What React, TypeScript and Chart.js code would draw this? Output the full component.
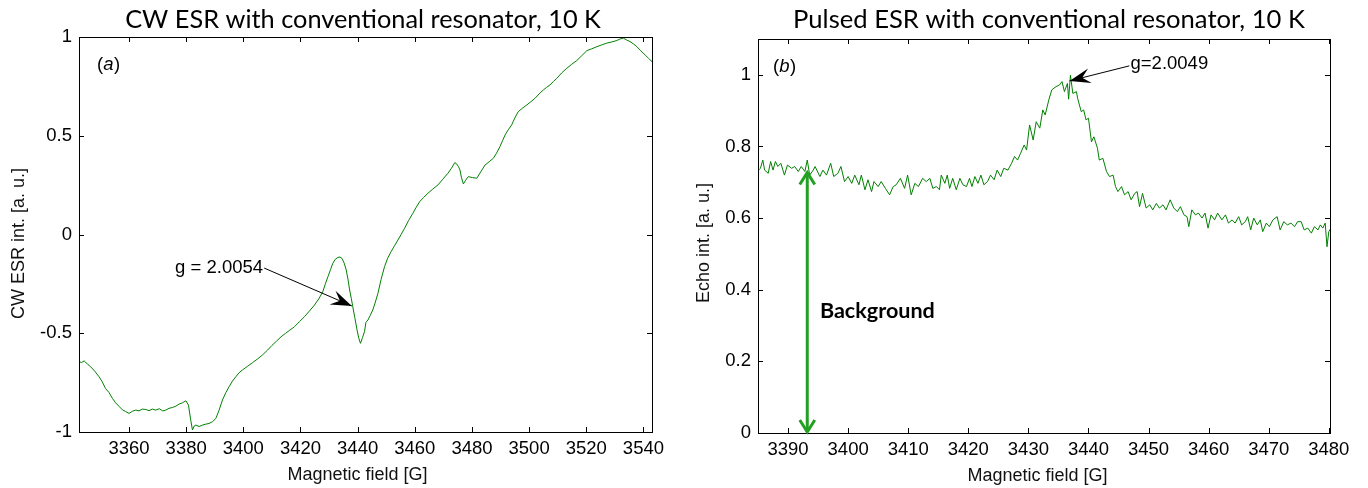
import React, { useEffect, useRef } from 'react';
import { Chart, registerables } from 'chart.js';

Chart.register(...registerables);

// ---------------- data ----------------
const cwField = [
  3342.5, 3343.4, 3344.3, 3345.4, 3346.6, 3348.0, 3349.5, 3350.6, 3351.8, 3353.0, 3354.2, 3355.3, 3356.5, 3357.7, 3358.8,
  3360.0, 3361.2, 3362.4, 3363.5, 3364.6, 3365.9, 3367.0, 3368.2, 3369.4, 3370.6, 3371.8, 3372.9, 3374.0, 3375.2, 3376.4,
  3377.5, 3378.7, 3379.9, 3380.8, 3381.6, 3382.2, 3382.8, 3383.4, 3384.5, 3385.7, 3386.9, 3388.0, 3389.2, 3390.4, 3391.5,
  3392.7, 3393.9, 3395.0, 3396.2, 3397.4, 3398.5, 3399.7, 3401.4, 3403.2, 3405.0, 3406.7, 3408.5, 3410.0, 3411.6, 3413.2,
  3414.8, 3416.3, 3417.9, 3419.6, 3421.4, 3423.1, 3424.9, 3426.4, 3427.8, 3428.7, 3429.6, 3430.5, 3431.3, 3432.2, 3433.1,
  3433.8, 3434.5, 3435.3, 3436.0, 3436.6, 3437.2, 3437.8, 3438.3, 3439.0, 3439.8, 3440.4, 3441.0, 3441.7, 3442.4, 3442.9,
  3443.6, 3444.4, 3445.3, 3446.2, 3447.1, 3448.2, 3449.4, 3450.5, 3451.7, 3452.9, 3454.1, 3455.2, 3456.4, 3457.8, 3459.3,
  3460.5, 3461.7, 3463.1, 3464.6, 3466.3, 3468.1, 3469.8, 3471.6, 3472.8, 3474.0, 3474.6, 3475.3, 3475.8, 3476.3, 3477.0,
  3477.8, 3478.7, 3480.2, 3481.7, 3483.1, 3484.6, 3486.0, 3487.5, 3488.6, 3489.8, 3490.7, 3491.6, 3492.7, 3493.9, 3495.0,
  3496.2, 3497.7, 3499.2, 3500.6, 3502.1, 3503.5, 3505.0, 3506.1, 3507.3, 3508.5, 3509.7, 3511.4, 3513.2, 3514.9, 3516.7,
  3518.4, 3520.2, 3521.9, 3523.7, 3525.4, 3527.2, 3528.9, 3530.7, 3531.8, 3533.0, 3534.1, 3535.3, 3536.5, 3537.7, 3539.1,
  3540.6, 3541.8, 3543.0,
];
const cwSignal = [
  -0.644, -0.648, -0.64, -0.655, -0.67, -0.692, -0.72, -0.745, -0.78, -0.8, -0.83, -0.852, -0.87, -0.888, -0.896,
  -0.906, -0.895, -0.889, -0.893, -0.884, -0.886, -0.892, -0.884, -0.889, -0.882, -0.893, -0.889, -0.88, -0.876, -0.869,
  -0.859, -0.852, -0.842, -0.864, -0.94, -0.99, -0.97, -0.965, -0.972, -0.965, -0.96, -0.957, -0.948, -0.931, -0.89,
  -0.838, -0.8, -0.771, -0.742, -0.72, -0.7, -0.686, -0.668, -0.649, -0.63, -0.61, -0.585, -0.562, -0.54, -0.518,
  -0.5, -0.484, -0.467, -0.442, -0.416, -0.388, -0.357, -0.326, -0.29, -0.25, -0.214, -0.178, -0.146, -0.125, -0.116,
  -0.114, -0.121, -0.145, -0.18, -0.225, -0.281, -0.325, -0.366, -0.42, -0.484, -0.525, -0.551, -0.522, -0.492, -0.445,
  -0.433, -0.41, -0.382, -0.342, -0.298, -0.228, -0.163, -0.12, -0.087, -0.057, -0.028, 0.0, 0.031, 0.07, 0.107,
  0.138, 0.166, 0.188, 0.209, 0.23, 0.251, 0.28, 0.31, 0.335, 0.364, 0.358, 0.343, 0.327, 0.29, 0.256,
  0.275, 0.293, 0.288, 0.285, 0.318, 0.352, 0.368, 0.386, 0.412, 0.445, 0.475, 0.504, 0.53, 0.555, 0.59,
  0.622, 0.64, 0.656, 0.672, 0.69, 0.712, 0.732, 0.745, 0.757, 0.775, 0.791, 0.818, 0.842, 0.862, 0.881,
  0.905, 0.931, 0.94, 0.951, 0.96, 0.969, 0.975, 0.982, 0.99, 0.994, 0.985, 0.977, 0.965, 0.951, 0.93,
  0.909, 0.892, 0.875,
];

const echoField = [
  3385.2, 3385.4, 3385.8, 3386.1, 3386.7, 3387.1, 3387.5, 3387.9, 3388.3, 3388.8, 3389.4, 3389.9, 3390.6, 3391.1, 3391.7,
  3392.2, 3392.8, 3393.2, 3393.6, 3394.2, 3394.5, 3395.3, 3395.8, 3396.4, 3397.1, 3397.6, 3398.3, 3398.8, 3399.4, 3400.0,
  3400.6, 3401.1, 3401.8, 3402.2, 3402.8, 3403.3, 3403.9, 3404.3, 3405.0, 3405.5, 3406.2, 3406.9, 3407.5, 3408.0, 3408.7,
  3409.4, 3409.9, 3410.5, 3411.1, 3411.7, 3412.4, 3413.0, 3413.6, 3414.1, 3414.7, 3415.2, 3415.5, 3416.1, 3416.5, 3416.9,
  3417.4, 3418.0, 3418.6, 3419.1, 3419.7, 3420.2, 3420.6, 3421.1, 3421.6, 3422.1, 3422.6, 3423.2, 3423.7, 3424.3, 3424.8,
  3425.4, 3425.9, 3426.6, 3427.2, 3427.7, 3428.2, 3428.7, 3429.3, 3429.7, 3430.2, 3430.8, 3431.3, 3431.9, 3432.4, 3432.8,
  3433.4, 3433.9, 3434.6, 3435.2, 3435.6, 3436.0, 3436.5, 3436.7, 3437.0, 3437.4, 3438.0, 3438.2, 3438.8, 3439.2, 3439.6,
  3440.0, 3440.5, 3440.9, 3441.5, 3441.8, 3442.4, 3443.0, 3443.5, 3444.1, 3444.5, 3444.9, 3445.5, 3446.0, 3446.6, 3447.1,
  3447.7, 3448.1, 3448.5, 3449.0, 3449.6, 3450.2, 3450.7, 3451.3, 3451.8, 3452.4, 3452.9, 3453.6, 3454.2, 3454.8, 3455.3,
  3455.9, 3456.4, 3456.7, 3457.2, 3457.8, 3458.3, 3458.9, 3459.4, 3459.9, 3460.4, 3461.0, 3461.5, 3462.2, 3462.8, 3463.3,
  3463.9, 3464.4, 3465.0, 3465.5, 3466.1, 3466.5, 3467.0, 3467.5, 3468.1, 3468.6, 3469.0, 3469.6, 3470.1, 3470.7, 3471.4,
  3471.9, 3472.5, 3473.1, 3473.7, 3474.3, 3474.8, 3475.4, 3475.9, 3476.5, 3477.1, 3477.6, 3478.2, 3478.6, 3479.0, 3479.4,
  3479.7, 3480.0, 3480.5,
];
const echoSignal = [
  0.735, 0.739, 0.762, 0.734, 0.725, 0.758, 0.734, 0.758, 0.744, 0.753, 0.72, 0.748, 0.739, 0.744, 0.73,
  0.744, 0.73, 0.762, 0.72, 0.734, 0.744, 0.716, 0.734, 0.72, 0.753, 0.716, 0.725, 0.744, 0.702, 0.716,
  0.697, 0.72, 0.693, 0.72, 0.679, 0.707, 0.674, 0.702, 0.688, 0.702, 0.683, 0.665, 0.688, 0.693, 0.711,
  0.683, 0.72, 0.665, 0.697, 0.688, 0.711, 0.702, 0.711, 0.683, 0.688, 0.679, 0.72, 0.697, 0.72, 0.683,
  0.711, 0.679, 0.711, 0.693, 0.688, 0.711, 0.688, 0.716, 0.697, 0.72, 0.693, 0.702, 0.72, 0.707, 0.734,
  0.716, 0.739, 0.734, 0.753, 0.772, 0.762, 0.781, 0.804, 0.79, 0.86, 0.818, 0.869, 0.851, 0.902, 0.888,
  0.93, 0.958, 0.967, 0.972, 0.981, 0.953, 0.976, 0.932, 0.999, 0.948, 0.953, 0.934, 0.897, 0.902, 0.874,
  0.879, 0.813, 0.827, 0.795, 0.762, 0.767, 0.73, 0.716, 0.72, 0.688, 0.674, 0.688, 0.665, 0.674, 0.651,
  0.669, 0.674, 0.632, 0.669, 0.628, 0.637, 0.623, 0.641, 0.628, 0.637, 0.623, 0.651, 0.628, 0.618, 0.632,
  0.609, 0.604, 0.576, 0.623, 0.609, 0.614, 0.6, 0.614, 0.572, 0.609, 0.595, 0.614, 0.595, 0.609, 0.586,
  0.595, 0.586, 0.604, 0.581, 0.59, 0.604, 0.567, 0.6, 0.581, 0.595, 0.562, 0.586, 0.576, 0.595, 0.604,
  0.567, 0.59, 0.581, 0.586, 0.576, 0.59, 0.59, 0.567, 0.572, 0.558, 0.576, 0.567, 0.581, 0.572, 0.586,
  0.52, 0.562, 0.576,
];

const cwXTicks = [3360, 3380, 3400, 3420, 3440, 3460, 3480, 3500, 3520, 3540];
const cwYTicks = [-1, -0.5, 0, 0.5, 1];
const cwYTickLabels = ['-1', '-0.5', '0', '0.5', '1'];
const echoXTicks = [3390, 3400, 3410, 3420, 3430, 3440, 3450, 3460, 3470, 3480];
const echoYTicks = [0, 0.2, 0.4, 0.6, 0.8, 1];
const echoYTickLabels = ['0', '0.2', '0.4', '0.6', '0.8', '1'];

const cwXRange = [3342.5, 3543];
const cwYRange = [-1, 1];
const echoXRange = [3385, 3480.2];
const echoYRange = [0, 1.1];

const panelTitles = ['CW ESR with conventional resonator, 10 K', 'Pulsed ESR with conventional resonator, 10 K'];
const xAxisTitle = 'Magnetic field [G]';
const yAxisTitles = ['CW ESR int. [a. u.]', 'Echo int. [a. u.]'];
const panelLetters = ['a', 'b'];

// annotation anchors (data coordinates)
const cwArrow = { text: 'g = 2.0054', align: 'right', textX: 3406.9, textY: -0.17, tailX: 3407.3, tailY: -0.17, tipX: 3437.97, tipY: -0.362 };
const echoArrow = { text: 'g=2.0049', align: 'left', textX: 3447.0, textY: 1.03, tailX: 3446.8, tailY: 1.025, tipX: 3436.85, tipY: 0.983 };
const backgroundArrow = { x: 3393.2, from: 0, to: 0.73, label: 'Background', labelX: 3395.3, labelY: 0.3216 };

// ---------------- styling ----------------
const LINE_GREEN = '#008000';
const ARROW_GREEN = '#22a022';
const AX_FONT = '"Liberation Sans", Arial, Helvetica, sans-serif';
const TITLE_FONT = 'Lato, "Open Sans", sans-serif';

function fitSize(ctx: CanvasRenderingContext2D, text: string, family: string, weight: string, target: number) {
  ctx.font = `${weight} 100px ${family}`;
  const w = ctx.measureText(text).width;
  return (100 * target) / w;
}

function drawArrowHead(ctx: CanvasRenderingContext2D, tx: number, ty: number, fx: number, fy: number, len: number, half: number, notch: number) {
  const dx = tx - fx;
  const dy = ty - fy;
  const d = Math.hypot(dx, dy);
  const ux = dx / d;
  const uy = dy / d;
  const px = -uy;
  const py = ux;
  ctx.beginPath();
  ctx.moveTo(tx, ty);
  ctx.lineTo(tx - ux * len + px * half, ty - uy * len + py * half);
  ctx.lineTo(tx - ux * notch, ty - uy * notch);
  ctx.lineTo(tx - ux * len - px * half, ty - uy * len - py * half);
  ctx.closePath();
  ctx.fill();
}

type PanelCfg = {
  idx: number;
  field: number[];
  signal: number[];
  xTicks: number[];
  yTicks: number[];
  yLabels: string[];
  xRange: number[];
  yRange: number[];
  area: { left: number; top: number; right: number; bottom: number };
  titleCenter: number;
  titleWidth: number;
  xTitleShift: number;
  yTitleShift: number;
  yTitleBaseX: number;
  xTitleBase: number;
  letterX: number;
};

function makeChart(canvas: HTMLCanvasElement, p: PanelCfg) {
  const W = 684;
  const H = 488;
  const decor = {
    id: 'decor' + p.idx,
    afterDatasetsDraw(chart: any) {
      const ctx: CanvasRenderingContext2D = chart.ctx;
      const a = chart.chartArea;
      const xs = chart.scales.x;
      const ys = chart.scales.y;
      ctx.save();
      // frame
      ctx.strokeStyle = '#000';
      ctx.lineWidth = 1;
      ctx.strokeRect(Math.round(a.left) + 0.5, Math.round(a.top) + 0.5, Math.round(a.right - a.left), Math.round(a.bottom - a.top));
      // inward ticks
      const tl = 5;
      ctx.beginPath();
      p.xTicks.forEach((v) => {
        const x = Math.round(xs.getPixelForValue(v)) + 0.5;
        ctx.moveTo(x, a.bottom);
        ctx.lineTo(x, a.bottom - tl);
        ctx.moveTo(x, a.top);
        ctx.lineTo(x, a.top + tl);
      });
      p.yTicks.forEach((v) => {
        const y = Math.round(ys.getPixelForValue(v)) + 0.5;
        ctx.moveTo(a.left, y);
        ctx.lineTo(a.left + tl, y);
        ctx.moveTo(a.right, y);
        ctx.lineTo(a.right - tl, y);
      });
      ctx.stroke();

      // panel title
      const ts = fitSize(ctx, panelTitles[p.idx], TITLE_FONT, '400', p.titleWidth);
      ctx.font = `400 ${ts}px ${TITLE_FONT}`;
      ctx.fillStyle = '#000';
      ctx.textAlign = 'center';
      ctx.textBaseline = 'alphabetic';
      ctx.fillText(panelTitles[p.idx], p.titleCenter, 28);

      // axis titles
      ctx.font = `18px ${AX_FONT}`;
      ctx.fillStyle = '#111';
      ctx.fillText(xAxisTitle, (a.left + a.right) / 2 + p.xTitleShift, p.xTitleBase);
      ctx.save();
      ctx.translate(p.yTitleBaseX, (a.top + a.bottom) / 2 + p.yTitleShift);
      ctx.rotate(-Math.PI / 2);
      ctx.fillText(yAxisTitles[p.idx], 0, 0);
      ctx.restore();

      // panel letter (x) with italic letter
      ctx.textAlign = 'left';
      ctx.fillStyle = '#000';
      let lx = a.left + p.letterX;
      const ly = a.top + 33;
      ctx.font = `18.5px ${AX_FONT}`;
      ctx.fillText('(', lx, ly);
      lx += ctx.measureText('(').width;
      ctx.font = `italic 18.5px ${AX_FONT}`;
      ctx.fillText(panelLetters[p.idx], lx, ly);
      lx += ctx.measureText(panelLetters[p.idx]).width + 0.5;
      ctx.font = `18.5px ${AX_FONT}`;
      ctx.fillText(')', lx, ly);

      // g-factor arrow
      const arr = p.idx === 0 ? cwArrow : echoArrow;
      const tx = xs.getPixelForValue(arr.tipX);
      const ty = ys.getPixelForValue(arr.tipY);
      const fx = xs.getPixelForValue(arr.tailX);
      const fy = ys.getPixelForValue(arr.tailY);
      ctx.strokeStyle = '#000';
      ctx.lineWidth = 1;
      ctx.beginPath();
      ctx.moveTo(fx, fy);
      ctx.lineTo(tx, ty);
      ctx.stroke();
      ctx.fillStyle = '#000';
      drawArrowHead(ctx, tx, ty, fx, fy, 21, 7.5, 13);
      ctx.font = `18.5px ${AX_FONT}`;
      ctx.textAlign = arr.align as CanvasTextAlign;
      ctx.textBaseline = 'middle';
      ctx.fillText(arr.text, xs.getPixelForValue(arr.textX), ys.getPixelForValue(arr.textY));

      // background arrow (panel b)
      if (p.idx === 1) {
        const bx = xs.getPixelForValue(backgroundArrow.x);
        const b0 = ys.getPixelForValue(backgroundArrow.from);
        const b1 = ys.getPixelForValue(backgroundArrow.to);
        ctx.strokeStyle = ARROW_GREEN;
        ctx.lineWidth = 3;
        ctx.lineCap = 'butt';
        ctx.beginPath();
        ctx.moveTo(bx, b0 - 1);
        ctx.lineTo(bx, b1 + 1);
        ctx.stroke();
        ctx.lineJoin = 'miter';
        ctx.beginPath();
        ctx.moveTo(bx - 7.5, b1 + 13);
        ctx.lineTo(bx, b1 + 1);
        ctx.lineTo(bx + 7.5, b1 + 13);
        ctx.moveTo(bx - 7.5, b0 - 13);
        ctx.lineTo(bx, b0 - 1);
        ctx.lineTo(bx + 7.5, b0 - 13);
        ctx.stroke();
        const bs = fitSize(ctx, backgroundArrow.label, TITLE_FONT, '700', 115);
        ctx.font = `700 ${bs}px ${TITLE_FONT}`;
        ctx.fillStyle = '#000';
        ctx.textAlign = 'left';
        ctx.textBaseline = 'alphabetic';
        ctx.fillText(backgroundArrow.label, xs.getPixelForValue(backgroundArrow.labelX), ys.getPixelForValue(backgroundArrow.labelY));
      }
      ctx.restore();
    },
  };

  return new Chart(canvas, {
    type: 'line',
    data: {
      datasets: [
        {
          data: p.field.map((x, i) => ({ x, y: p.signal[i] })),
          borderColor: LINE_GREEN,
          borderWidth: 1,
          pointRadius: 0,
          tension: 0,
          fill: false,
        },
      ],
    },
    options: {
      animation: false,
      responsive: false,
      devicePixelRatio: 1,
      layout: {
        autoPadding: false,
        padding: { left: 0, top: p.area.top, right: W - p.area.right, bottom: 0 },
      },
      plugins: { legend: { display: false }, tooltip: { enabled: false }, title: { display: false } },
      scales: {
        x: {
          type: 'linear',
          min: p.xRange[0],
          max: p.xRange[1],
          grid: { display: false, drawTicks: false },
          border: { display: false },
          ticks: {
            color: '#000',
            font: { family: AX_FONT, size: 18.5 },
            padding: 6,
            maxRotation: 0,
            autoSkip: false,
            callback: (v: any) => String(v),
          },
          afterBuildTicks: (s: any) => {
            s.ticks = p.xTicks.map((v) => ({ value: v }));
          },
          afterFit: (s: any) => {
            s.height = H - p.area.bottom;
          },
        },
        y: {
          type: 'linear',
          min: p.yRange[0],
          max: p.yRange[1],
          grid: { display: false, drawTicks: false },
          border: { display: false },
          ticks: {
            color: '#000',
            font: { family: AX_FONT, size: 18.5 },
            padding: 7,
            autoSkip: false,
            callback: (v: any) => {
              const i = p.yTicks.indexOf(v);
              return i >= 0 ? p.yLabels[i] : '';
            },
          },
          afterBuildTicks: (s: any) => {
            s.ticks = p.yTicks.map((v) => ({ value: v }));
          },
          afterFit: (s: any) => {
            s.width = p.area.left;
          },
        },
      },
    } as any,
    plugins: [decor],
  });
}

const panels: PanelCfg[] = [
  {
    idx: 0,
    field: cwField,
    signal: cwSignal,
    xTicks: cwXTicks,
    yTicks: cwYTicks,
    yLabels: cwYTickLabels,
    xRange: cwXRange,
    yRange: cwYRange,
    area: { left: 79, top: 37, right: 652, bottom: 432 },
    titleCenter: 363,
    titleWidth: 476,
    xTitleShift: -8,
    yTitleShift: 9,
    yTitleBaseX: 24,
    xTitleBase: 480,
    letterX: 18,
  },
  {
    idx: 1,
    field: echoField,
    signal: echoSignal,
    xTicks: echoXTicks,
    yTicks: echoYTicks,
    yLabels: echoYTickLabels,
    xRange: echoXRange,
    yRange: echoYRange,
    area: { left: 74, top: 39, right: 646, bottom: 433 },
    titleCenter: 365,
    titleWidth: 512,
    xTitleShift: -6.5,
    yTitleShift: 7,
    yTitleBaseX: 25,
    xTitleBase: 481,
    letterX: 15,
  },
];

export default function App() {
  const leftRef = useRef<HTMLCanvasElement | null>(null);
  const rightRef = useRef<HTMLCanvasElement | null>(null);

  useEffect(() => {
    const charts: Chart[] = [];
    if (leftRef.current) charts.push(makeChart(leftRef.current, panels[0]));
    if (rightRef.current) charts.push(makeChart(rightRef.current, panels[1]));
    return () => charts.forEach((c) => c.destroy());
  }, []);

  return (
    <div style={{ position: 'absolute', left: 0, top: 0, width: 1368, height: 488, background: '#fff', overflow: 'hidden' }}>
      <canvas ref={leftRef} width={684} height={488} style={{ position: 'absolute', left: 0, top: 0, width: 684, height: 488 }} />
      <canvas ref={rightRef} width={684} height={488} style={{ position: 'absolute', left: 684, top: 0, width: 684, height: 488 }} />
    </div>
  );
}
